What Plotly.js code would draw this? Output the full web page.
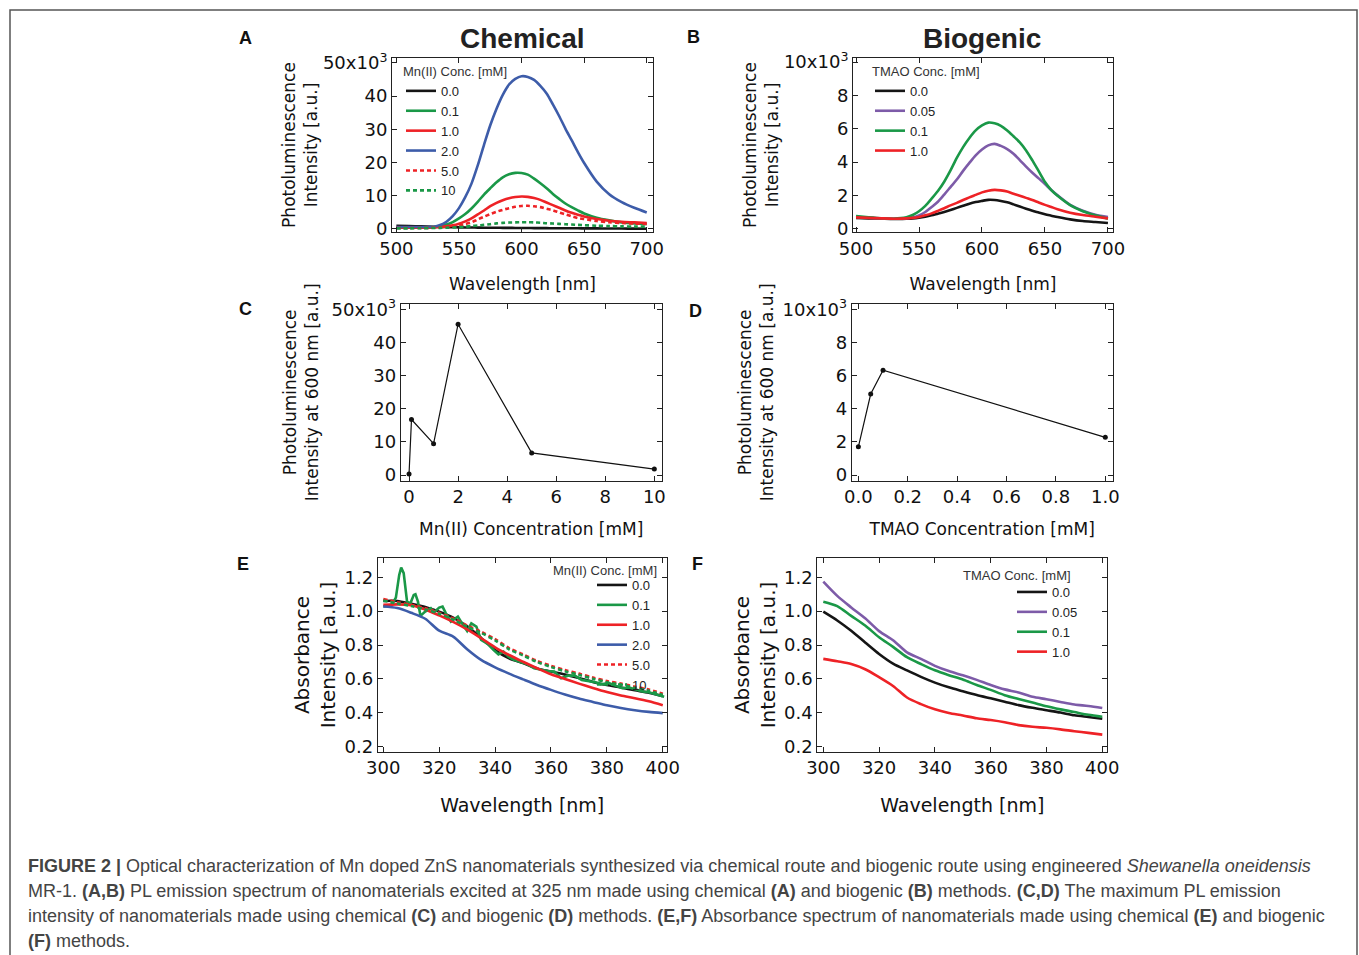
<!DOCTYPE html>
<html><head><meta charset="utf-8">
<script src="https://cdn.plot.ly/plotly-3.0.1.min.js"></script>
<style>html,body{margin:0;padding:0;background:#fff}#chart{width:1359px;height:955px}</style>
</head><body><div id="chart"></div>
<script>
// ---------------- DATA ----------------
// Panel A: PL emission, chemical route (values in 10^3 a.u.)
const wlA = [500,510,520,530,535,540,545,550,555,560,565,570,575,580,585,590,595,600,605,610,615,620,625,630,635,640,645,650,660,670,680,690,700];
const plMn00 = [0.9,0.8,0.7,0.6,0.55,0.5,0.45,0.4,0.38,0.35,0.33,0.3,0.28,0.27,0.25,0.24,0.22,0.2,0.19,0.18,0.17,0.16,0.15,0.14,0.13,0.12,0.11,0.1,0.08,0.06,0.04,0.02,0.0];
const plMn01 = [0.3,0.3,0.35,0.45,0.8,1.25,2.0,3.1,4.4,6.1,8.1,10.3,12.2,14.0,15.5,16.4,16.85,16.8,16.3,15.1,13.7,12.2,10.5,9.0,7.6,6.5,5.5,4.6,3.3,2.5,1.9,1.6,1.45];
const plMn10 = [0.3,0.3,0.3,0.4,0.5,0.7,1.0,1.5,2.2,3.1,4.3,5.5,6.8,7.8,8.6,9.2,9.55,9.7,9.6,9.25,8.7,7.9,7.1,6.3,5.5,4.8,4.2,3.7,2.9,2.4,2.1,1.9,1.7];
const plMn20 = [0.5,0.5,0.5,0.6,1.1,2.1,3.8,6.2,9.5,13.6,19.1,25.3,31.2,36.2,40.4,43.5,45.2,46.0,45.8,44.9,43.1,40.8,37.5,34.0,30.2,26.7,23.1,19.8,14.2,10.4,8.0,6.3,4.9];
const plMn50 = [0.2,0.2,0.2,0.3,0.35,0.45,0.6,0.9,1.4,1.9,2.8,3.6,4.4,5.1,5.7,6.2,6.6,6.85,6.9,6.75,6.5,6.0,5.55,4.9,4.35,3.75,3.2,2.9,2.3,1.95,1.7,1.55,1.4];
const plMn100 = [0.1,0.1,0.15,0.2,0.25,0.3,0.35,0.45,0.6,0.8,0.95,1.15,1.35,1.6,1.75,1.85,1.9,1.95,1.95,1.9,1.8,1.65,1.55,1.45,1.35,1.25,1.15,1.05,0.9,0.8,0.7,0.65,0.6];

// Panel B: PL emission, biogenic route (values in 10^3 a.u.)
const wlB = [500,510,520,530,540,545,550,555,560,565,570,575,580,585,590,595,600,605,610,615,620,625,630,635,640,645,650,655,660,670,680,690,700];
const plT000 = [0.64,0.62,0.6,0.58,0.6,0.62,0.66,0.72,0.8,0.9,1.0,1.12,1.25,1.37,1.5,1.6,1.67,1.73,1.72,1.66,1.58,1.46,1.33,1.2,1.08,0.97,0.86,0.78,0.7,0.56,0.46,0.4,0.34];
const plT005 = [0.7,0.66,0.62,0.6,0.62,0.67,0.8,1.0,1.3,1.62,2.05,2.5,2.95,3.47,3.95,4.4,4.75,5.0,5.09,4.97,4.78,4.5,4.12,3.73,3.36,3.02,2.68,2.32,2.0,1.43,1.08,0.84,0.7];
const plT010 = [0.76,0.69,0.63,0.6,0.68,0.82,1.05,1.37,1.8,2.26,2.82,3.5,4.25,4.9,5.45,5.9,6.2,6.37,6.33,6.18,5.9,5.55,5.18,4.7,4.1,3.45,2.8,2.32,1.98,1.42,1.05,0.8,0.6];
const plT100 = [0.68,0.65,0.62,0.6,0.62,0.65,0.7,0.8,0.92,1.07,1.23,1.4,1.55,1.72,1.88,2.03,2.18,2.28,2.33,2.3,2.23,2.1,1.98,1.85,1.72,1.57,1.43,1.3,1.17,0.96,0.82,0.72,0.62];

// Panel C: PL at 600 nm vs Mn(II) concentration
const concMn = [0, 0.1, 1, 2, 5, 10];
const pl600Mn = [0.3, 16.8, 9.5, 45.6, 6.7, 1.8];

// Panel D: PL at 600 nm vs TMAO concentration
const concTMAO = [0, 0.05, 0.1, 1.0];
const pl600TMAO = [1.71, 4.9, 6.34, 2.28];

// Panel E: absorbance, chemical route
const wlE = [300,305,310,315,320,325,330,335,340,345,350,355,360,365,370,375,380,385,390,395,400];
const absMn00 = [1.06,1.06,1.043,1.025,0.997,0.962,0.91,0.842,0.77,0.722,0.693,0.662,0.643,0.625,0.605,0.582,0.564,0.549,0.533,0.518,0.497];
const absMn10 = [1.037,1.04,1.035,1.01,0.975,0.937,0.892,0.84,0.786,0.741,0.701,0.663,0.627,0.599,0.572,0.546,0.522,0.502,0.486,0.468,0.445];
const absMn20 = [1.027,1.018,0.99,0.955,0.885,0.85,0.775,0.712,0.668,0.631,0.597,0.564,0.535,0.508,0.484,0.464,0.444,0.428,0.415,0.405,0.398];
const absMn50 = [1.072,1.053,1.037,1.017,0.99,0.957,0.915,0.878,0.835,0.782,0.745,0.706,0.677,0.652,0.631,0.608,0.587,0.572,0.554,0.537,0.512];
const absMn100 = [1.062,1.045,1.03,1.01,0.985,0.95,0.908,0.872,0.827,0.775,0.738,0.7,0.67,0.645,0.624,0.601,0.58,0.565,0.547,0.53,0.505];
const wlE01 = [300,303,304.5,305.7,306.4,307.3,308.5,309.7,310.9,311.5,312.4,313.3,315,317,318.2,320,321.2,322.4,324.2,326.7,328.5,330,331.5,333.3,335,337.6,339.4,341.2,343,344.8,346.7,349,351.5,354,356.4,358.8,361.2,363.6,366,368.5,371,373.3,375.8,378.2,380.6,383,385.5,388,390.3,392.7,395,398.8,400.5];
const absMn01 = [1.027,1.037,1.08,1.214,1.257,1.224,1.056,1.046,1.096,1.1,1.056,0.972,0.997,1.017,0.993,1.021,1.027,0.987,0.938,0.968,0.919,0.883,0.928,0.909,0.83,0.804,0.771,0.745,0.761,0.731,0.712,0.698,0.686,0.663,0.653,0.647,0.643,0.604,0.619,0.619,0.594,0.588,0.58,0.568,0.576,0.56,0.545,0.549,0.535,0.525,0.521,0.505,0.495];

// Panel F: absorbance, biogenic route
const wlF = [300,305,310,315,320,325,330,335,340,345,350,355,360,365,370,375,380,385,390,395,400];
const absT000 = [0.997,0.945,0.884,0.815,0.747,0.69,0.65,0.612,0.578,0.55,0.527,0.505,0.485,0.465,0.445,0.429,0.415,0.401,0.385,0.375,0.365];
const absT005 = [1.174,1.09,1.022,0.958,0.882,0.828,0.757,0.718,0.677,0.646,0.621,0.594,0.564,0.538,0.52,0.494,0.48,0.464,0.449,0.44,0.428];
const absT010 = [1.056,1.03,0.972,0.915,0.846,0.789,0.728,0.688,0.651,0.622,0.596,0.564,0.535,0.504,0.481,0.46,0.438,0.42,0.404,0.388,0.376];
const absT100 = [0.718,0.704,0.688,0.657,0.61,0.558,0.49,0.451,0.42,0.399,0.384,0.367,0.357,0.344,0.327,0.317,0.311,0.302,0.291,0.281,0.271];

// Tick labels
const plTicksA = [0,10,20,30,40,50];
const plTickTextA = ['0','10','20','30','40','50x10<sup>3</sup>'];
const plTicksB = [0,2,4,6,8,10];
const plTickTextB = ['0','2','4','6','8','10x10<sup>3</sup>'];

// ---------------- STYLE ----------------
const W = 1359, H = 955;
const fx = p => p / W;
const fy = p => 1 - p / H;
const C = {black:'#151515', green:'#1a9847', red:'#ee2226', blue:'#3d5ca9', purple:'#7d5ba8'};
const TF = 'DejaVu Sans';
const LF = 'Liberation Sans, Arial, sans-serif';

function line(x, y, name, color, xa, ya, lg, dash, shape) {
  return {type:'scatter', mode:'lines', x:x, y:y, name:name, xaxis:xa, yaxis:ya, legend:lg,
    line:{color:color, width:2.6, dash:dash || 'solid', shape:shape || 'spline', smoothing:0.8}, hoverinfo:'skip'};
}
const DOT = '4px,3px';
const traces = [
  line(wlA, plMn00, '0.0', C.black, 'x', 'y', 'legend'),
  line(wlA, plMn01, '0.1', C.green, 'x', 'y', 'legend'),
  line(wlA, plMn10, '1.0', C.red, 'x', 'y', 'legend'),
  line(wlA, plMn20, '2.0', C.blue, 'x', 'y', 'legend'),
  line(wlA, plMn50, '5.0', C.red, 'x', 'y', 'legend', DOT),
  line(wlA, plMn100, '10', C.green, 'x', 'y', 'legend', DOT),

  line(wlB, plT000, '0.0', C.black, 'x2', 'y2', 'legend2'),
  line(wlB, plT005, '0.05', C.purple, 'x2', 'y2', 'legend2'),
  line(wlB, plT010, '0.1', C.green, 'x2', 'y2', 'legend2'),
  line(wlB, plT100, '1.0', C.red, 'x2', 'y2', 'legend2'),

  {type:'scatter', mode:'lines+markers', x:concMn, y:pl600Mn, xaxis:'x3', yaxis:'y3', showlegend:false,
    line:{color:'#111', width:1.2}, marker:{color:'#111', size:5}},
  {type:'scatter', mode:'lines+markers', x:concTMAO, y:pl600TMAO, xaxis:'x4', yaxis:'y4', showlegend:false,
    line:{color:'#111', width:1.2}, marker:{color:'#111', size:5}},

  line(wlE, absMn00, '0.0', C.black, 'x5', 'y5', 'legend3'),
  line(wlE01, absMn01, '0.1', C.green, 'x5', 'y5', 'legend3', null, 'linear'),
  line(wlE, absMn10, '1.0', C.red, 'x5', 'y5', 'legend3'),
  line(wlE, absMn20, '2.0', C.blue, 'x5', 'y5', 'legend3'),
  line(wlE, absMn50, '5.0', C.red, 'x5', 'y5', 'legend3', DOT),
  line(wlE, absMn100, '10', C.green, 'x5', 'y5', 'legend3', DOT),

  line(wlF, absT000, '0.0', C.black, 'x6', 'y6', 'legend4'),
  line(wlF, absT005, '0.05', C.purple, 'x6', 'y6', 'legend4'),
  line(wlF, absT010, '0.1', C.green, 'x6', 'y6', 'legend4'),
  line(wlF, absT100, '1.0', C.red, 'x6', 'y6', 'legend4')
];

function ax(d0, d1, range, anchor, extra, isY) {
  const a = {
    domain: isY ? [fy(d1), fy(d0)] : [fx(d0), fx(d1)],
    range: range, anchor: anchor,
    showline:true, linecolor:'#222', linewidth:1, mirror:'allticks',
    ticks:'inside', ticklen:5, tickwidth:1, tickcolor:'#222',
    showgrid:false, zeroline:false,
    tickfont:{family:TF, size:18, color:'#111'}
  };
  return Object.assign(a, extra);
}
function ttl(text, size, standoff) {
  return {text:text, font:{family:TF, size:size, color:'#111'}, standoff:standoff};
}

const legBase = {
  bgcolor:'rgba(0,0,0,0)', borderwidth:0, tracegroupgap:0, itemwidth:30,
  font:{family:LF, size:13, color:'#222'}, xanchor:'left', yanchor:'top'
};

function ann(text, x, y, size, extra) {
  return Object.assign({text:text, x:fx(x), y:fy(y), xref:'paper', yref:'paper', xanchor:'center', yanchor:'middle',
    showarrow:false, font:{family:LF, size:size, color:'#111'}}, extra || {});
}
const capFont = {family:LF, size:18, color:'#444'};

const layout = {
  width:W, height:H, margin:{l:0, r:0, t:0, b:0},
  paper_bgcolor:'#fff', plot_bgcolor:'rgba(0,0,0,0)',
  xaxis: ax(392, 653, [496.5, 705], 'y', {tickvals:[500,550,600,650,700], title:ttl('Wavelength [nm]', 17, 20)}),
  yaxis: ax(58, 232, [-1, 51.5], 'x', {tickvals:plTicksA, ticktext:plTickTextA, title:ttl('Photoluminescence<br>Intensity [a.u.]', 17, 0)}, true),
  xaxis2: ax(853, 1113, [497.6, 704], 'y2', {tickvals:[500,550,600,650,700], title:ttl('Wavelength [nm]', 17, 20)}),
  yaxis2: ax(58, 232, [-0.2, 10.25], 'x2', {tickvals:plTicksB, ticktext:plTickTextB, title:ttl('Photoluminescence<br>Intensity [a.u.]', 17, 0)}, true),
  xaxis3: ax(400.7, 661.7, [-0.34, 10.3], 'y3', {tickvals:[0,2,4,6,8,10], title:ttl('Mn(II) Concentration [mM]', 17, 16)}),
  yaxis3: ax(304, 480.7, [-1.7, 51.7], 'x3', {tickvals:plTicksA, ticktext:plTickTextA, title:ttl('Photoluminescence<br>Intensity at 600 nm [a.u.]', 17, 8)}, true),
  xaxis4: ax(851.7, 1112.7, [-0.027, 1.03], 'y4', {tickvals:[0,0.2,0.4,0.6,0.8,1.0], tickformat:'.1f', title:ttl('TMAO Concentration [mM]', 17, 16)}),
  yaxis4: ax(304, 480.7, [-0.34, 10.34], 'x4', {tickvals:plTicksB, ticktext:plTickTextB, title:ttl('Photoluminescence<br>Intensity at 600 nm [a.u.]', 17, 4)}, true),
  xaxis5: ax(377.7, 666.7, [298, 401.4], 'y5', {tickvals:[300,320,340,360,380,400], title:ttl('Wavelength [nm]', 19, 21)}),
  yaxis5: ax(558.3, 751.7, [0.17, 1.312], 'x5', {tickvals:[0.2,0.4,0.6,0.8,1.0,1.2], tickformat:'.1f', title:ttl('Absorbance<br>Intensity [a.u.]', 20, 3)}, true),
  xaxis6: ax(817.3, 1107.3, [297.85, 401.8], 'y6', {tickvals:[300,320,340,360,380,400], title:ttl('Wavelength [nm]', 19, 21)}),
  yaxis6: ax(558.3, 751.7, [0.17, 1.312], 'x6', {tickvals:[0.2,0.4,0.6,0.8,1.0,1.2], tickformat:'.1f', title:ttl('Absorbance<br>Intensity [a.u.]', 20, 3)}, true),

  legend: Object.assign({}, legBase, {x:fx(401), y:fy(59), title:{text:'Mn(II) Conc. [mM]', side:'top', font:{family:LF, size:13, color:'#333'}}}),
  legend2: Object.assign({}, legBase, {x:fx(870), y:fy(59), title:{text:'TMAO Conc. [mM]', side:'top', font:{family:LF, size:13, color:'#333'}}}),
  legend3: Object.assign({}, legBase, {x:fx(592), y:fy(570)}),
  legend4: Object.assign({}, legBase, {x:fx(1012), y:fy(577)}),

  annotations: [
    ann('<b>Chemical</b>', 522, 38, 28, {font:{family:LF, size:28, color:'#222'}}),
    ann('<b>Biogenic</b>', 982, 38, 28, {font:{family:LF, size:28, color:'#222'}}),
    ann('<b>A</b>', 245, 38, 18),
    ann('<b>B</b>', 693, 37, 18),
    ann('<b>C</b>', 245, 309, 18),
    ann('<b>D</b>', 695, 311, 18),
    ann('<b>E</b>', 243, 564, 18),
    ann('<b>F</b>', 697, 564, 18),
    ann('Mn(II) Conc. [mM]', 659, 570, 13, {xanchor:'right', font:{family:LF, size:13, color:'#333'}}),
    ann('TMAO Conc. [mM]', 1073, 575, 13, {xanchor:'right', font:{family:LF, size:13, color:'#333'}}),
    ann('<b>FIGURE 2 |</b> Optical characterization of Mn doped ZnS nanomaterials synthesized via chemical route and biogenic route using engineered <i>Shewanella oneidensis</i>',
      26, 866, 18, {xanchor:'left', font:capFont}),
    ann('MR-1. <b>(A,B)</b> PL emission spectrum of nanomaterials excited at 325 nm made using chemical <b>(A)</b> and biogenic <b>(B)</b> methods. <b>(C,D)</b> The maximum PL emission',
      26, 891, 18, {xanchor:'left', font:capFont}),
    ann('intensity of nanomaterials made using chemical <b>(C)</b> and biogenic <b>(D)</b> methods. <b>(E,F)</b> Absorbance spectrum of nanomaterials made using chemical <b>(E)</b> and biogenic',
      26, 916, 18, {xanchor:'left', font:capFont}),
    ann('<b>(F)</b> methods.', 26, 941, 18, {xanchor:'left', font:capFont})
  ],
  shapes: [
    {type:'rect', xref:'paper', yref:'paper', x0:fx(10), x1:fx(1357), y0:-0.05, y1:fy(10), line:{color:'#555', width:1.5}, fillcolor:'rgba(0,0,0,0)', layer:'below'}
  ]
};

Plotly.newPlot('chart', traces, layout, {displayModeBar:false, staticPlot:true});
</script></body></html>
